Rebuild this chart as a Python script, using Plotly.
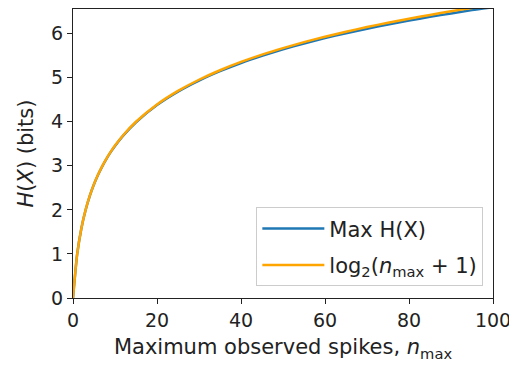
import plotly.graph_objects as go

n_max = [0, 1, 2, 3, 4, 5, 6, 7, 8, 9, 10, 12, 15, 20, 25, 30, 35, 40, 45, 50,
         55, 60, 65, 70, 75, 80, 85, 90, 95, 100]
max_h = [0, 1.0, 1.585, 1.998, 2.32, 2.582, 2.803, 2.995, 3.165, 3.318, 3.452, 3.692,
         3.99, 4.38, 4.685, 4.935, 5.148, 5.335, 5.498, 5.645, 5.778, 5.9, 6.01,
         6.113, 6.21, 6.298, 6.382, 6.46, 6.535, 6.6]
log2_bound = [0, 1.0, 1.585, 2.0, 2.322, 2.585, 2.807, 3.0, 3.170, 3.322, 3.459, 3.700,
              4.0, 4.392, 4.700, 4.954, 5.170, 5.358, 5.524, 5.672, 5.807, 5.931,
              6.044, 6.150, 6.248, 6.340, 6.426, 6.508, 6.585, 6.658]

x_ticks = [0, 20, 40, 60, 80, 100]
y_ticks = [0, 1, 2, 3, 4, 5, 6]

fig = go.Figure()
fig.add_trace(go.Scatter(x=n_max, y=max_h, mode="lines", name="Max H(X)", legendgroup="a",
                         line=dict(color="#1f77b4", width=2.5, shape="spline", smoothing=0.6)))
fig.add_trace(go.Scatter(x=n_max, y=log2_bound, mode="lines", legendgroup="b",
                         name="log<sub>2</sub>(<i>n</i><sub>max</sub> + 1)",
                         line=dict(color="#FFA500", width=2.5, shape="spline", smoothing=0.6)))

axis_common = dict(showline=True, linecolor="#222", linewidth=1.3, mirror=True,
                   ticks="outside", ticklen=5, tickwidth=1.3, tickcolor="#222",
                   showgrid=False, zeroline=False, ticklabeloverflow="allow",
                   automargin=False,
                   tickfont=dict(family="DejaVu Sans", size=19, color="#222"))

fig.update_layout(
    width=509, height=367,
    margin=dict(l=73, r=16, t=9, b=69),
    plot_bgcolor="white", paper_bgcolor="white",
    xaxis=dict(range=[0, 100], tickvals=x_ticks, **axis_common,
               title=dict(text="Maximum observed spikes, <i>n</i><sub>max</sub>",
                          font=dict(family="DejaVu Sans", size=21, color="#222"),
                          standoff=9)),
    yaxis=dict(range=[0, 6.56], tickvals=y_ticks, **axis_common,
               title=dict(text="<i>H</i>(<i>X</i>) (bits)",
                          font=dict(family="DejaVu Sans", size=21, color="#222"),
                          standoff=11)),
    legend=dict(x=0.977, y=0.04, xanchor="right", yanchor="bottom",
                bgcolor="rgba(255,255,255,0.8)", bordercolor="#ccc", borderwidth=1,
                font=dict(family="DejaVu Sans", size=21, color="#222"),
                itemwidth=62, tracegroupgap=6),
    showlegend=True,
)

fig.write_html("out.html")
